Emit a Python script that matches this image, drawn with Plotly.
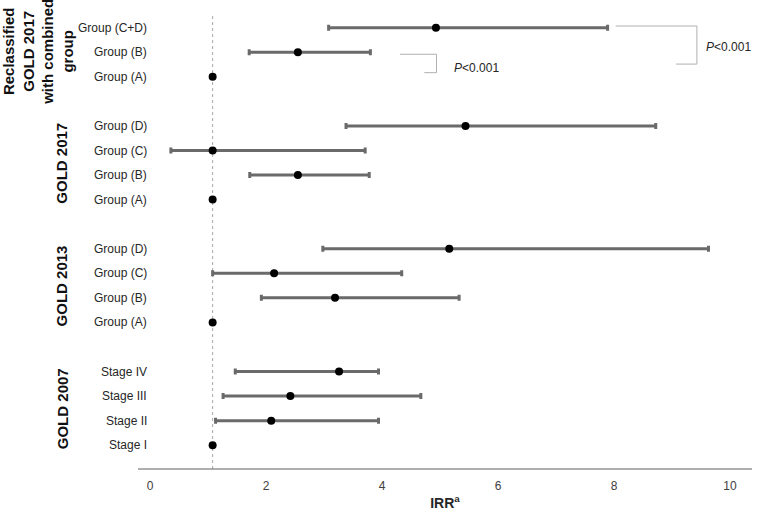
import plotly.graph_objects as go

# ---------------- data ----------------
row_labels = ["Group (C+D)", "Group (B)", "Group (A)", "",
              "Group (D)", "Group (C)", "Group (B)", "Group (A)", "",
              "Group (D)", "Group (C)", "Group (B)", "Group (A)", "",
              "Stage IV", "Stage III", "Stage II", "Stage I"]
irr = [4.93, 2.55, 1.08, None,
       5.44, 1.08, 2.55, 1.08, None,
       5.16, 2.14, 3.19, 1.08, None,
       3.26, 2.42, 2.09, 1.08]
ci_low = [3.08, 1.71, None, None,
          3.38, 0.36, 1.72, None, None,
          2.98, 1.08, 1.92, None, None,
          1.47, 1.26, 1.13, None]
ci_high = [7.89, 3.80, None, None,
           8.72, 3.71, 3.78, None, None,
           9.63, 4.34, 5.33, None, None,
           3.94, 4.67, 3.94, None]
group_names = ["Reclassified<br>GOLD 2017<br>with combined<br>group",
               "GOLD 2017", "GOLD 2013", "GOLD 2007"]
group_rows = [(0, 2), (4, 7), (9, 12), (14, 17)]
reference_irr = 1.08
x_ticks = [0, 2, 4, 6, 8, 10]
p_texts = ["<i>P</i>&lt;0.001", "<i>P</i>&lt;0.001"]

# ---------------- build ----------------
slots = list(range(len(row_labels)))
ci_x, ci_y, ci_plus, ci_minus = [], [], [], []
ref_x, ref_y = [], []
for s, v, lo, hi in zip(slots, irr, ci_low, ci_high):
    if v is None:
        continue
    if lo is None:
        ref_x.append(v)
        ref_y.append(s)
    else:
        ci_x.append(v)
        ci_y.append(s)
        ci_plus.append(hi - v)
        ci_minus.append(v - lo)

FONT = "Liberation Sans, Arial"

fig = go.Figure()
fig.add_trace(go.Scatter(
    x=ci_x, y=ci_y, mode="markers",
    marker=dict(color="black", size=8),
    error_x=dict(type="data", symmetric=False, array=ci_plus, arrayminus=ci_minus,
                 color="#6a6a6a", thickness=3, width=3),
    showlegend=False, hoverinfo="x+y"))
fig.add_trace(go.Scatter(
    x=ref_x, y=ref_y, mode="markers",
    marker=dict(color="black", size=8),
    showlegend=False))

# reference line
fig.add_shape(type="line", xref="x", yref="paper", x0=reference_irr, x1=reference_irr,
              y0=0, y1=1, line=dict(color="#a8a8a8", width=1, dash="dot"), layer="below")

# x axis line
fig.add_shape(type="line", xref="paper", yref="paper", x0=0, x1=1, y0=0, y1=0,
              line=dict(color="#5e5e5e", width=1))

# row labels
for s, lab in zip(slots, row_labels):
    if lab:
        fig.add_annotation(x=0.018, xref="paper", y=s, yref="y", text=lab,
                           showarrow=False, xanchor="right", yanchor="middle",
                           font=dict(family=FONT, size=12, color="#262626"))

# group labels
group_x = [-0.162, -0.124, -0.124, -0.124]
for name, (a, b), gx in zip(group_names, group_rows, group_x):
    fig.add_annotation(x=gx, xref="paper", y=(a + b) / 2, yref="y", text="<b>" + name + "</b>",
                       showarrow=False, textangle=-90, xanchor="center", yanchor="middle",
                       font=dict(family=FONT, size=15, color="#111111"),
                       align="center")

# p-value brackets
br_col = "#b0b0b0"
b1 = [(8.03, -0.07), (9.43, -0.07), (9.43, 1.48), (9.07, 1.48)]
b2 = [(4.31, 1.08), (4.94, 1.08), (4.94, 1.83), (4.73, 1.83)]
for pts in (b1, b2):
    for (xa, ya), (xb, yb) in zip(pts[:-1], pts[1:]):
        fig.add_shape(type="line", xref="x", yref="y", x0=xa, y0=ya, x1=xb, y1=yb,
                      line=dict(color=br_col, width=1))
fig.add_annotation(x=9.55, y=0.78, xref="x", yref="y", text=p_texts[0], showarrow=False,
                   xanchor="left", font=dict(family=FONT, size=12, color="#262626"))
fig.add_annotation(x=5.2, y=1.63, xref="x", yref="y", text=p_texts[1], showarrow=False,
                   xanchor="left", font=dict(family=FONT, size=12, color="#262626"))

fig.update_layout(
    template="none",
    width=764, height=513,
    margin=dict(l=138, r=12, t=13, b=44, autoexpand=False),
    plot_bgcolor="white", paper_bgcolor="white",
    font=dict(family=FONT, size=12, color="#404040"),
    xaxis=dict(range=[-0.207, 10.38], tickvals=x_ticks, showgrid=False, zeroline=False,
               showline=False, ticks="", ticklabelstandoff=8, automargin=False,
               tickfont=dict(family=FONT, size=12, color="#404040"),
               title=dict(text="<b>IRR<sup>a</sup></b>", standoff=6,
                          font=dict(family=FONT, size=14, color="#262626"))),
    yaxis=dict(range=[17.97, -0.6], showticklabels=False, showgrid=False, automargin=False,
               zeroline=False, showline=False, ticks=""),
)

fig.write_html("out.html", config={"displayModeBar": False},
               post_script="document.body.style.margin='0';document.body.style.overflow='hidden';")
